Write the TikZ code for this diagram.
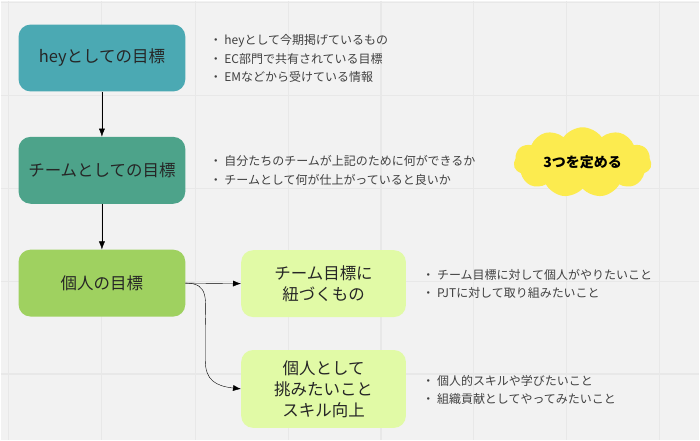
\documentclass[tikz,border=0pt]{standalone}
\usepackage{fontspec}
\setmainfont{Noto Sans CJK JP}
\usepackage{xcolor}
\usetikzlibrary{shapes.symbols,positioning,arrows.meta}
\definecolor{heyc}{HTML}{4BA9B3}
\definecolor{teamc}{HTML}{4DA38A}
\definecolor{kojinc}{HTML}{9FD160}
\definecolor{subc}{HTML}{E1FAA6}
\definecolor{cloudc}{HTML}{FCEB4F}
\tikzset{box/.style={rounded corners=12pt,minimum width=167pt,minimum height=67pt,font=\fontsize{16.5}{21}\selectfont,align=center,text=black!85},
  sub/.style={rounded corners=12pt,minimum width=165pt,align=center,font=\fontsize{16.5}{21}\selectfont,text=black!85},
  notes/.style={anchor=west,align=left,font=\fontsize{12}{18.5}\selectfont,text=black!75},
  link/.style={-{Latex[length=8pt,width=6pt]},thin}}
\begin{document}
\begin{tikzpicture}[x=1pt,y=-1pt]
    \fill[black!5] (0,0) rectangle (700,440);
    \foreach \x in {8,101,195,288,381,474,567,660}
        \draw[black!9,line width=1.2pt] (\x,0) -- (\x,440);
    \foreach \y in {2,95,188,281,374}
        \draw[black!9,line width=1.2pt] (0,\y) -- (700,\y);

    \node[box,fill=heyc] (hey) at (101.5,57.5) {heyとしての目標};
    \node[box,fill=teamc] (team) at (101.5,170) {チームとしての目標};
    \node[box,fill=kojinc] (kojin) at (101.5,283) {個人の目標};
    \node[sub,fill=subc,minimum height=67pt] (himo) at (323.5,283.5) {チーム目標に\\紐づくもの};
    \node[sub,fill=subc,minimum height=78pt] (skill) at (323.5,389) {個人として\\挑みたいこと\\スキル向上};
    \node[cloud,cloud puffs=11,cloud puff arc=110,aspect=2.2,fill=cloudc,minimum width=138pt,minimum height=68pt,font=\bfseries\fontsize{14}{17}\selectfont] (three) at (583,162) {3つを定める};

    \node[notes] (n1) at (206,58) {・ heyとして今期掲げているもの\\・ EC部門で共有されている目標\\・ EMなどから受けている情報};
    \node[notes] (n2) at (206,170) {・ 自分たちのチームが上記のために何ができるか\\・ チームとして何が仕上がっていると良いか};
    \node[notes] (n3) at (419,284) {・ チーム目標に対して個人がやりたいこと\\・ PJTに対して取り組みたいこと};
    \node[notes] (n4) at (419,390) {・ 個人的スキルや学びたいこと\\・ 組織貢献としてやってみたいこと};

    \draw[link] (hey) -- (team);
    \draw[link] (team) -- (kojin);
    \draw[link] (kojin.east) -- (himo.west);
    \draw[link] (kojin.east) .. controls (210,283) and (205,300) .. (205,330) -- (205,360) .. controls (205,380) and (215,386) .. (skill.west);
\end{tikzpicture}
\end{document}
